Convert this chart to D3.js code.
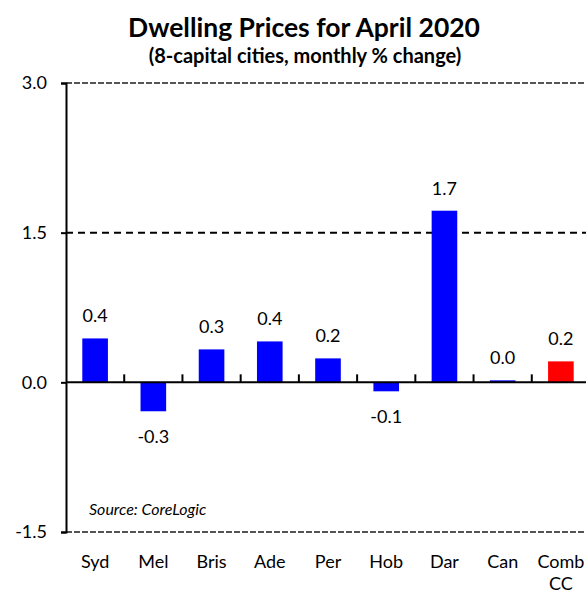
<!DOCTYPE html>
<html>
<head>
<meta charset="utf-8">
<script src="https://cdn.jsdelivr.net/npm/d3@7"></script>
<style>
    body { margin: 0; background: #fff; }
    text { font-family: Lato, "Open Sans", sans-serif; fill: #000; }
    .title { font-weight: bold; font-size: 26.5px; }
    .subtitle { font-weight: bold; font-size: 20px; }
    .catLabel { font-size: 18px; }
    .valLabel { font-size: 18px; }
    .source { font-style: italic; font-size: 16px; }
</style>
</head>
<body>
<script>
(function(){

    // chart data
    var categories = ["Syd", "Mel", "Bris", "Ade", "Per", "Hob", "Dar", "Can", "Comb CC"];
    var values = [0.44, -0.29, 0.33, 0.41, 0.24, -0.09, 1.72, 0.02, 0.21];
    var barColors = ["blue", "blue", "blue", "blue", "blue", "blue", "blue", "blue", "red"];
    var yTicks = [-1.5, 0.0, 1.5, 3.0];

    window.onload = setChart;

    // plain hyphen for negatives, like the original
    function fmt(d){
        return d3.format(".1f")(d).replace("\u2212", "-");
    }

    function setChart(){
        var width = 586,
            height = 594,
            left = 66,
            right = 590,
            top = 83,
            bottom = 532;

        var svg = d3.select("body")
            .append("svg")
            .attr("width", width)
            .attr("height", height);

        svg.append("text")
            .attr("class", "title")
            .attr("x", 304)
            .attr("y", 37)
            .attr("text-anchor", "middle")
            .text("Dwelling Prices for April 2020");

        svg.append("text")
            .attr("class", "subtitle")
            .attr("x", 305)
            .attr("y", 63)
            .attr("text-anchor", "middle")
            .text("(8-capital cities, monthly % change)");

        var x = d3.scaleBand()
            .domain(categories)
            .range([left, right])
            .paddingInner(0.56)
            .paddingOuter(0.28);

        var y = d3.scaleLinear()
            .domain([-1.5, 3.0])
            .range([bottom, top]);

        // top / bottom gridlines (grey dashed)
        svg.selectAll(".edgeLine")
            .data([-1.5, 3.0])
            .enter()
            .append("line")
            .attr("class", "edgeLine")
            .attr("x1", left)
            .attr("x2", width)
            .attr("y1", function(d){ return y(d); })
            .attr("y2", function(d){ return y(d); })
            .style("stroke", "#555")
            .style("stroke-width", 2)
            .style("stroke-dasharray", "6,2");

        // dashed line at 1.5
        svg.append("line")
            .attr("x1", left)
            .attr("x2", width)
            .attr("y1", y(1.5))
            .attr("y2", y(1.5))
            .style("stroke", "#000")
            .style("stroke-width", 2)
            .style("stroke-dasharray", "7,5");

        // bars
        svg.selectAll(".bar")
            .data(values)
            .enter()
            .append("rect")
            .attr("class", "bar")
            .attr("x", function(d, i){ return x(categories[i]); })
            .attr("width", x.bandwidth())
            .attr("y", function(d){ return y(Math.max(0, d)); })
            .attr("height", function(d){ return Math.max(1.5, Math.abs(y(d) - y(0))); })
            .style("fill", function(d, i){ return barColors[i]; });

        // value labels
        svg.selectAll(".valLabel")
            .data(values)
            .enter()
            .append("text")
            .attr("class", "valLabel")
            .attr("text-anchor", "middle")
            .attr("x", function(d, i){ return x(categories[i]) + x.bandwidth() / 2; })
            .attr("y", function(d){ return d >= 0 ? y(d) - 16 : y(d) + 32; })
            .text(fmt);

        // y axis
        var yAxis = d3.axisLeft(y)
            .tickValues(yTicks)
            .tickSize(5)
            .tickPadding(14)
            .tickFormat(fmt);

        var gy = svg.append("g")
            .attr("transform", "translate(" + left + ",0)")
            .call(yAxis);
        gy.select(".domain").style("stroke", "#000").style("stroke-width", 2);
        gy.selectAll(".tick line").style("stroke", "#000").style("stroke-width", 2);
        gy.selectAll(".tick text")
            .style("font-family", "Lato, sans-serif")
            .style("font-size", "18px");

        // zero line with ticks between categories
        svg.append("line")
            .attr("x1", left)
            .attr("x2", width)
            .attr("y1", y(0))
            .attr("y2", y(0))
            .style("stroke", "#000")
            .style("stroke-width", 2);

        svg.selectAll(".catTick")
            .data(categories.slice(1))
            .enter()
            .append("line")
            .attr("class", "catTick")
            .attr("x1", function(d){ return x(d) - x.step() * x.paddingInner() / 2; })
            .attr("x2", function(d){ return x(d) - x.step() * x.paddingInner() / 2; })
            .attr("y1", y(0))
            .attr("y2", y(0) - 8)
            .style("stroke", "#000")
            .style("stroke-width", 2);

        // category labels
        var cat = svg.selectAll(".catLabel")
            .data(categories)
            .enter()
            .append("text")
            .attr("class", "catLabel")
            .attr("text-anchor", "middle")
            .attr("x", function(d){ return x(d) + x.bandwidth() / 2; })
            .attr("y", 568);

        cat.each(function(d){
            var parts = d.split(" ");
            var t = d3.select(this);
            parts.forEach(function(p, i){
                t.append("tspan")
                    .attr("x", x(d) + x.bandwidth() / 2)
                    .attr("dy", i === 0 ? 0 : 22)
                    .text(p);
            });
        });

        svg.append("text")
            .attr("class", "source")
            .attr("x", 89)
            .attr("y", 515)
            .text("Source: CoreLogic");
    }

})();
</script>
</body>
</html>
